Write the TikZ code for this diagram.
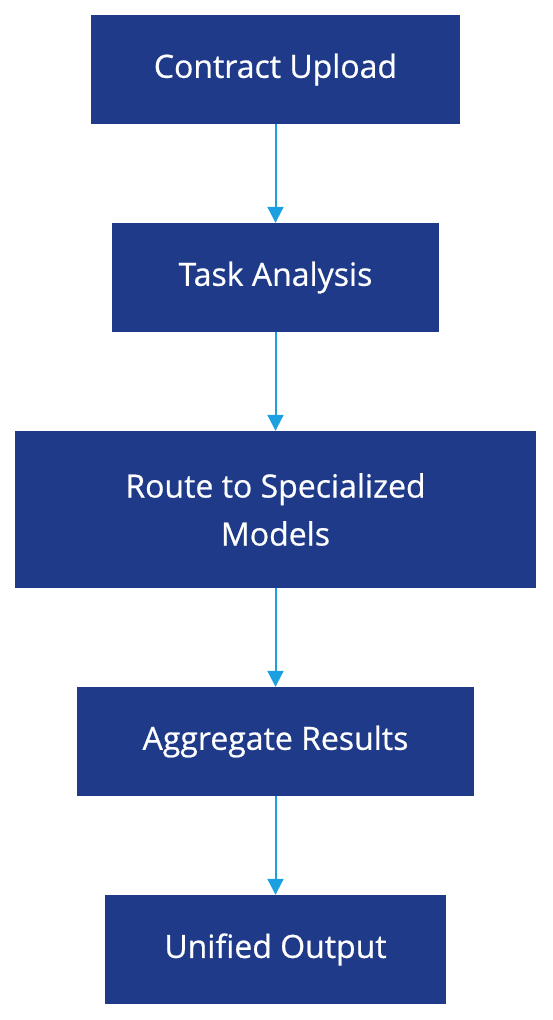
\documentclass[tikz,border=0pt]{standalone}
\usepackage{fontspec}
\setmainfont{Open Sans}[FakeBold=0.6]
\usetikzlibrary{arrows.meta}
\definecolor{boxblue}{HTML}{1F3A88}
\definecolor{arrowblue}{HTML}{1BA1E2}
\tikzset{
  stepbox/.style={draw=none, fill=boxblue, text=white, align=center,
    inner sep=0pt, font=\fontsize{32}{48}\selectfont},
  flow/.style={draw=arrowblue, line width=2pt,
    -{Triangle[width=16pt,length=16pt]}, arrowblue}
}
\begin{document}
\begin{tikzpicture}[x=1pt,y=-1pt]
\useasboundingbox (0,0) rectangle (552,1020);
\node[stepbox, minimum width=369pt, minimum height=109pt] (a) at (275.5,69.5) {Contract Upload};
\node[stepbox, minimum width=327pt, minimum height=109pt] (b) at (275.5,277.5) {Task Analysis};
\node[stepbox, minimum width=521pt, minimum height=157pt] (c) at (275.5,509.5) {Route to Specialized\\Models};
\node[stepbox, minimum width=397pt, minimum height=109pt] (d) at (275.5,741.5) {Aggregate Results};
\node[stepbox, minimum width=341pt, minimum height=109pt] (e) at (275.5,949.5) {Unified Output};
\draw[flow] (a.south) -- (b.north);
\draw[flow] (b.south) -- (c.north);
\draw[flow] (c.south) -- (d.north);
\draw[flow] (d.south) -- (e.north);
\end{tikzpicture}
\end{document}
